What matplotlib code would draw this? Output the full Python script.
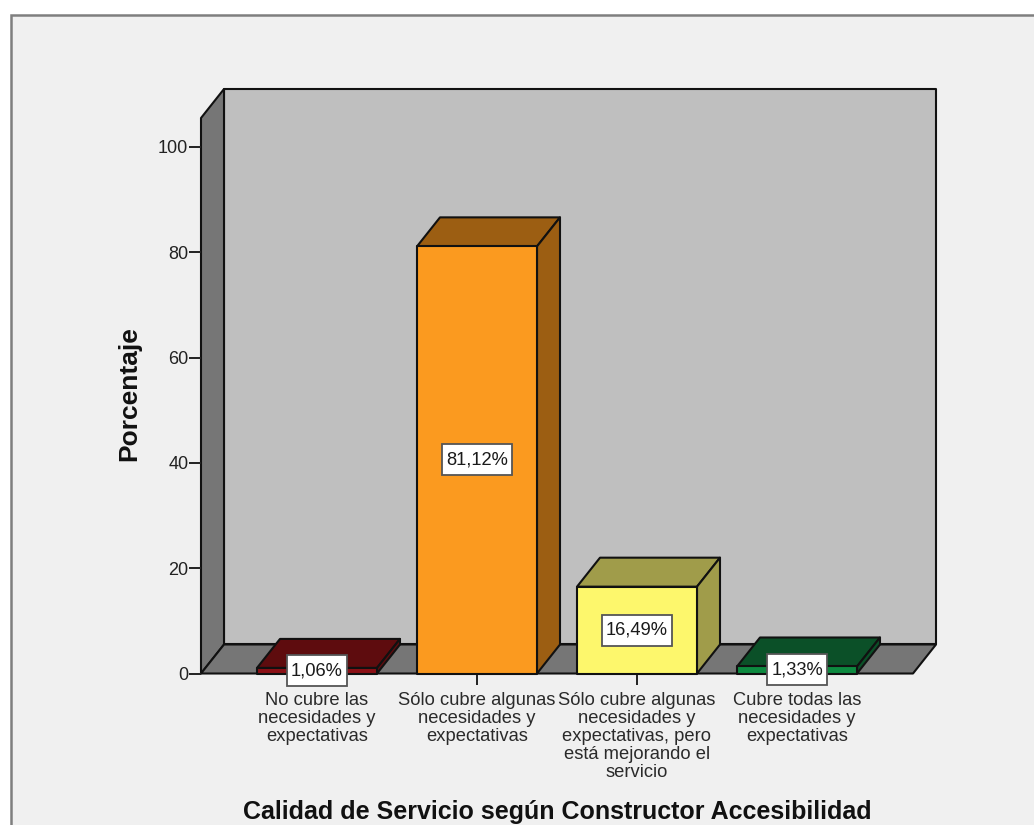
import matplotlib
matplotlib.use("Agg")
import matplotlib.pyplot as plt
from matplotlib.patches import Polygon, Rectangle

plt.rcParams['font.family'] = ['Liberation Sans', 'DejaVu Sans']

# Data
categories = [
    "No cubre las\nnecesidades y\nexpectativas",
    "Sólo cubre algunas\nnecesidades y\nexpectativas",
    "Sólo cubre algunas\nnecesidades y\nexpectativas, pero\nestá mejorando el\nservicio",
    "Cubre todas las\nnecesidades y\nexpectativas",
]
percentages = [1.06, 81.12, 16.49, 1.33]
value_labels = ["1,06%", "81,12%", "16,49%", "1,33%"]
y_ticks = [0, 20, 40, 60, 80, 100]

# front, top and side shades of each bar
front_colors = ["#8c1016", "#fb9a1f", "#fdf76c", "#0d8a40"]
top_colors = ["#5e0c0e", "#9c5e12", "#a09c4a", "#0b5028"]

W, H = 1034, 825
fig = plt.figure(figsize=(W / 100, H / 100), dpi=100, facecolor="white")

# grey panel with a border, running off the right and bottom edges
fig.add_artist(Rectangle((10.5 / W, -0.1), 1.1, 1 - 15.5 / H + 0.1, transform=fig.transFigure,
                         facecolor="#f0f0f0", edgecolor="#7f7f7f", linewidth=1.8, zorder=-1))

ax = fig.add_axes([201 / W, 1 - 673.5 / H, 712 / W, 555.5 / H])
ax.patch.set_visible(False)
ax.set_xlim(-0.725, 3.725)
ax.set_ylim(0, 105.5)
for s in ax.spines.values():
    s.set_visible(False)

# depth of the 3D box in data units
dx = 23 / 160
dy = 29 / 5.265
x0, x1 = ax.get_xlim()
y1 = ax.get_ylim()[1]
line = dict(edgecolor="#111111", linewidth=1.5, clip_on=False, joinstyle="round")

# back wall, left wall and floor
ax.add_patch(Polygon([(x0 + dx, dy), (x1 + dx, dy), (x1 + dx, y1 + dy), (x0 + dx, y1 + dy)],
                     facecolor="#bfbfbf", zorder=1, **line))
ax.add_patch(Polygon([(x0, 0), (x0 + dx, dy), (x0 + dx, y1 + dy), (x0, y1)],
                     facecolor="#767676", zorder=1, **line))
ax.add_patch(Polygon([(x0, 0), (x1, 0), (x1 + dx, dy), (x0 + dx, dy)],
                     facecolor="#767676", zorder=1, **line))

# bars with their value boxes, sized around the text
renderer = fig.canvas.get_renderer()
bar_w = 0.75
for i, v in enumerate(percentages):
    l, r = i - bar_w / 2, i + bar_w / 2
    ax.add_patch(Polygon([(l, v), (r, v), (r + dx, v + dy), (l + dx, v + dy)],
                         facecolor=top_colors[i], zorder=3, **line))
    ax.add_patch(Polygon([(r, 0), (r + dx, dy), (r + dx, v + dy), (r, v)],
                         facecolor=top_colors[i], zorder=3, **line))
    ax.add_patch(Polygon([(l, 0), (r, 0), (r, v), (l, v)],
                         facecolor=front_colors[i], zorder=3, **line))
    t = ax.text(i, v / 2, value_labels[i], ha="center", va="center", fontsize=13.2,
                color="#1a1a1a", zorder=6)
    box_w = (t.get_window_extent(renderer).width + 8) / 160
    box_h = 31 / 5.265
    ax.add_patch(Rectangle((i - box_w / 2, v / 2 - box_h / 2), box_w, box_h, facecolor="white",
                           edgecolor="#555555", linewidth=1.3, zorder=5, clip_on=False))

ax.set_xticks(range(len(categories)))
ax.set_xticklabels(categories, fontsize=13.2, color="#2a2a2a", linespacing=1.08)
ax.set_yticks(y_ticks)
ax.tick_params(axis="x", length=8, width=1.4, color="#222222", pad=5.2)
ax.tick_params(axis="y", length=8.6, width=1.4, color="#222222", pad=0.5, labelsize=13, labelcolor="#222222")

ax.set_xlabel("Calidad de Servicio según Constructor Accesibilidad", fontsize=18,
              fontweight="bold", color="#111111")
ax.xaxis.set_label_coords(356 / 712, -127 / 555.5)
ax.set_ylabel("Porcentaje", fontsize=19, fontweight="bold", color="#111111")
ax.yaxis.set_label_coords(-60 / 712, 279.5 / 555.5)

fig.savefig("out.png", dpi=100)
